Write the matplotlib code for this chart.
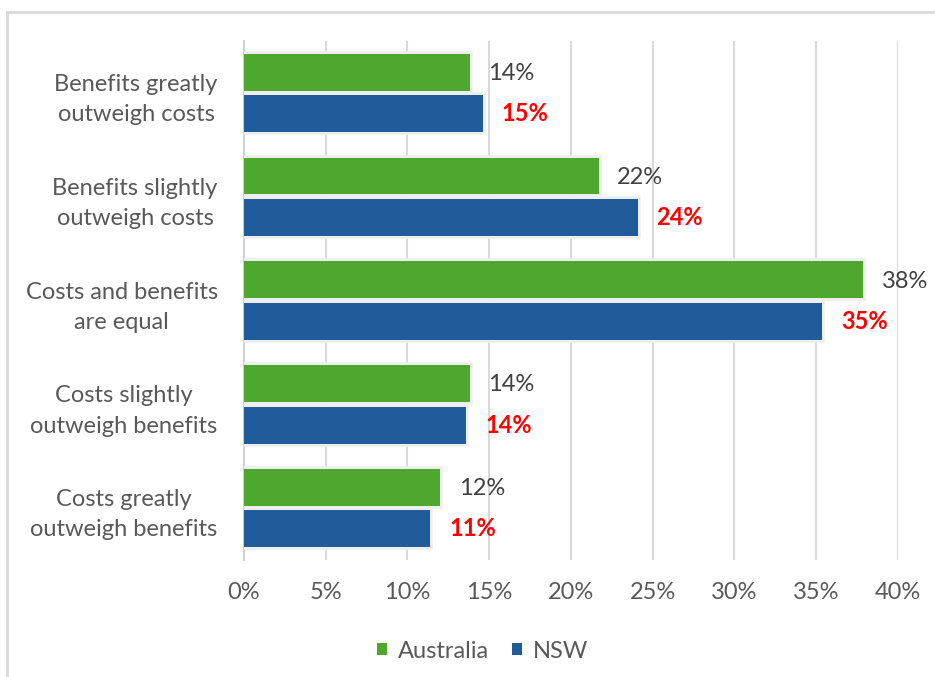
import matplotlib
matplotlib.use("Agg")
import matplotlib.pyplot as plt
import matplotlib.patheffects as pe
from matplotlib.patches import Rectangle
import numpy as np

plt.rcParams['font.family'] = ['Lato', 'DejaVu Sans']

categories = [
    "Benefits greatly\noutweigh costs",
    "Benefits slightly\noutweigh costs",
    "Costs and benefits\nare equal",
    "Costs slightly\noutweigh benefits",
    "Costs greatly\noutweigh benefits",
]
australia = [13.8, 21.7, 37.9, 13.8, 12.0]
nsw = [14.6, 24.1, 35.4, 13.6, 11.4]
series_names = ["Australia", "NSW"]
x_ticks = [0, 5, 10, 15, 20, 25, 30, 35, 40]

green = "#4EA72E"
blue = "#1F5C99"
text_grey = "#595959"
fs = 17

fig = plt.figure(figsize=(9.35, 6.77), dpi=100)
ax = fig.add_axes([0.261, 0.1728, 0.699, 0.7666])

# light frame along the top and left of the chart area
fig.patches.append(Rectangle((7 / 935, -0.05), 1.1, 1 - 12 / 677 + 0.05,
                             transform=fig.transFigure, fill=False,
                             edgecolor="#d9d9d9", linewidth=2, zorder=0))

y = np.arange(len(categories))
h = 0.355
glow = [pe.withStroke(linewidth=4, foreground="#eeeeee")]
b1 = ax.barh(y - 0.2, australia, height=h, color=green, label=series_names[0],
             zorder=3, path_effects=glow)
b2 = ax.barh(y + 0.2, nsw, height=h, color=blue, label=series_names[1],
             zorder=3, path_effects=glow)

for yy, v in zip(y - 0.2, australia):
    ax.annotate(f"{round(v)}%", (v, yy), xytext=(13.5, -1), textcoords="offset points",
                va="center", ha="left", fontsize=fs, color="#404040")
for yy, v in zip(y + 0.2, nsw):
    ax.annotate(f"{round(v)}%", (v, yy), xytext=(13.5, 0), textcoords="offset points",
                va="center", ha="left", fontsize=fs, color="#FF0000",
                fontweight="bold")

ax.set_xlim(0, 40)
ax.set_ylim(len(categories) - 0.5, -0.5)
ax.set_xticks(x_ticks)
ax.set_xticklabels([f"{t}%" for t in x_ticks])
ax.set_yticks(y)
ax.set_yticklabels(categories, multialignment="center", linespacing=1.55)
ax.tick_params(axis="both", length=0, labelsize=fs, labelcolor=text_grey)
ax.tick_params(axis="x", pad=16)
ax.tick_params(axis="y", pad=19)

ax.grid(axis="x", color="#d9d9d9", linewidth=1.5, zorder=0)
ax.set_axisbelow(True)
for s in ["top", "right", "bottom"]:
    ax.spines[s].set_visible(False)
ax.spines["left"].set_color("#d0d0d0")
ax.spines["left"].set_linewidth(1.5)

leg = fig.legend(handles=[b1, b2], labels=series_names, loc="center",
                 bbox_to_anchor=(0.516, 1 - 651 / 677), ncol=2, frameon=False,
                 fontsize=fs, handlelength=0.45, handleheight=0.45,
                 handletextpad=0.45, columnspacing=0.95, labelcolor=text_grey)
for p in leg.get_patches():
    p.set_path_effects([])

fig.savefig("out.png", dpi=100)
